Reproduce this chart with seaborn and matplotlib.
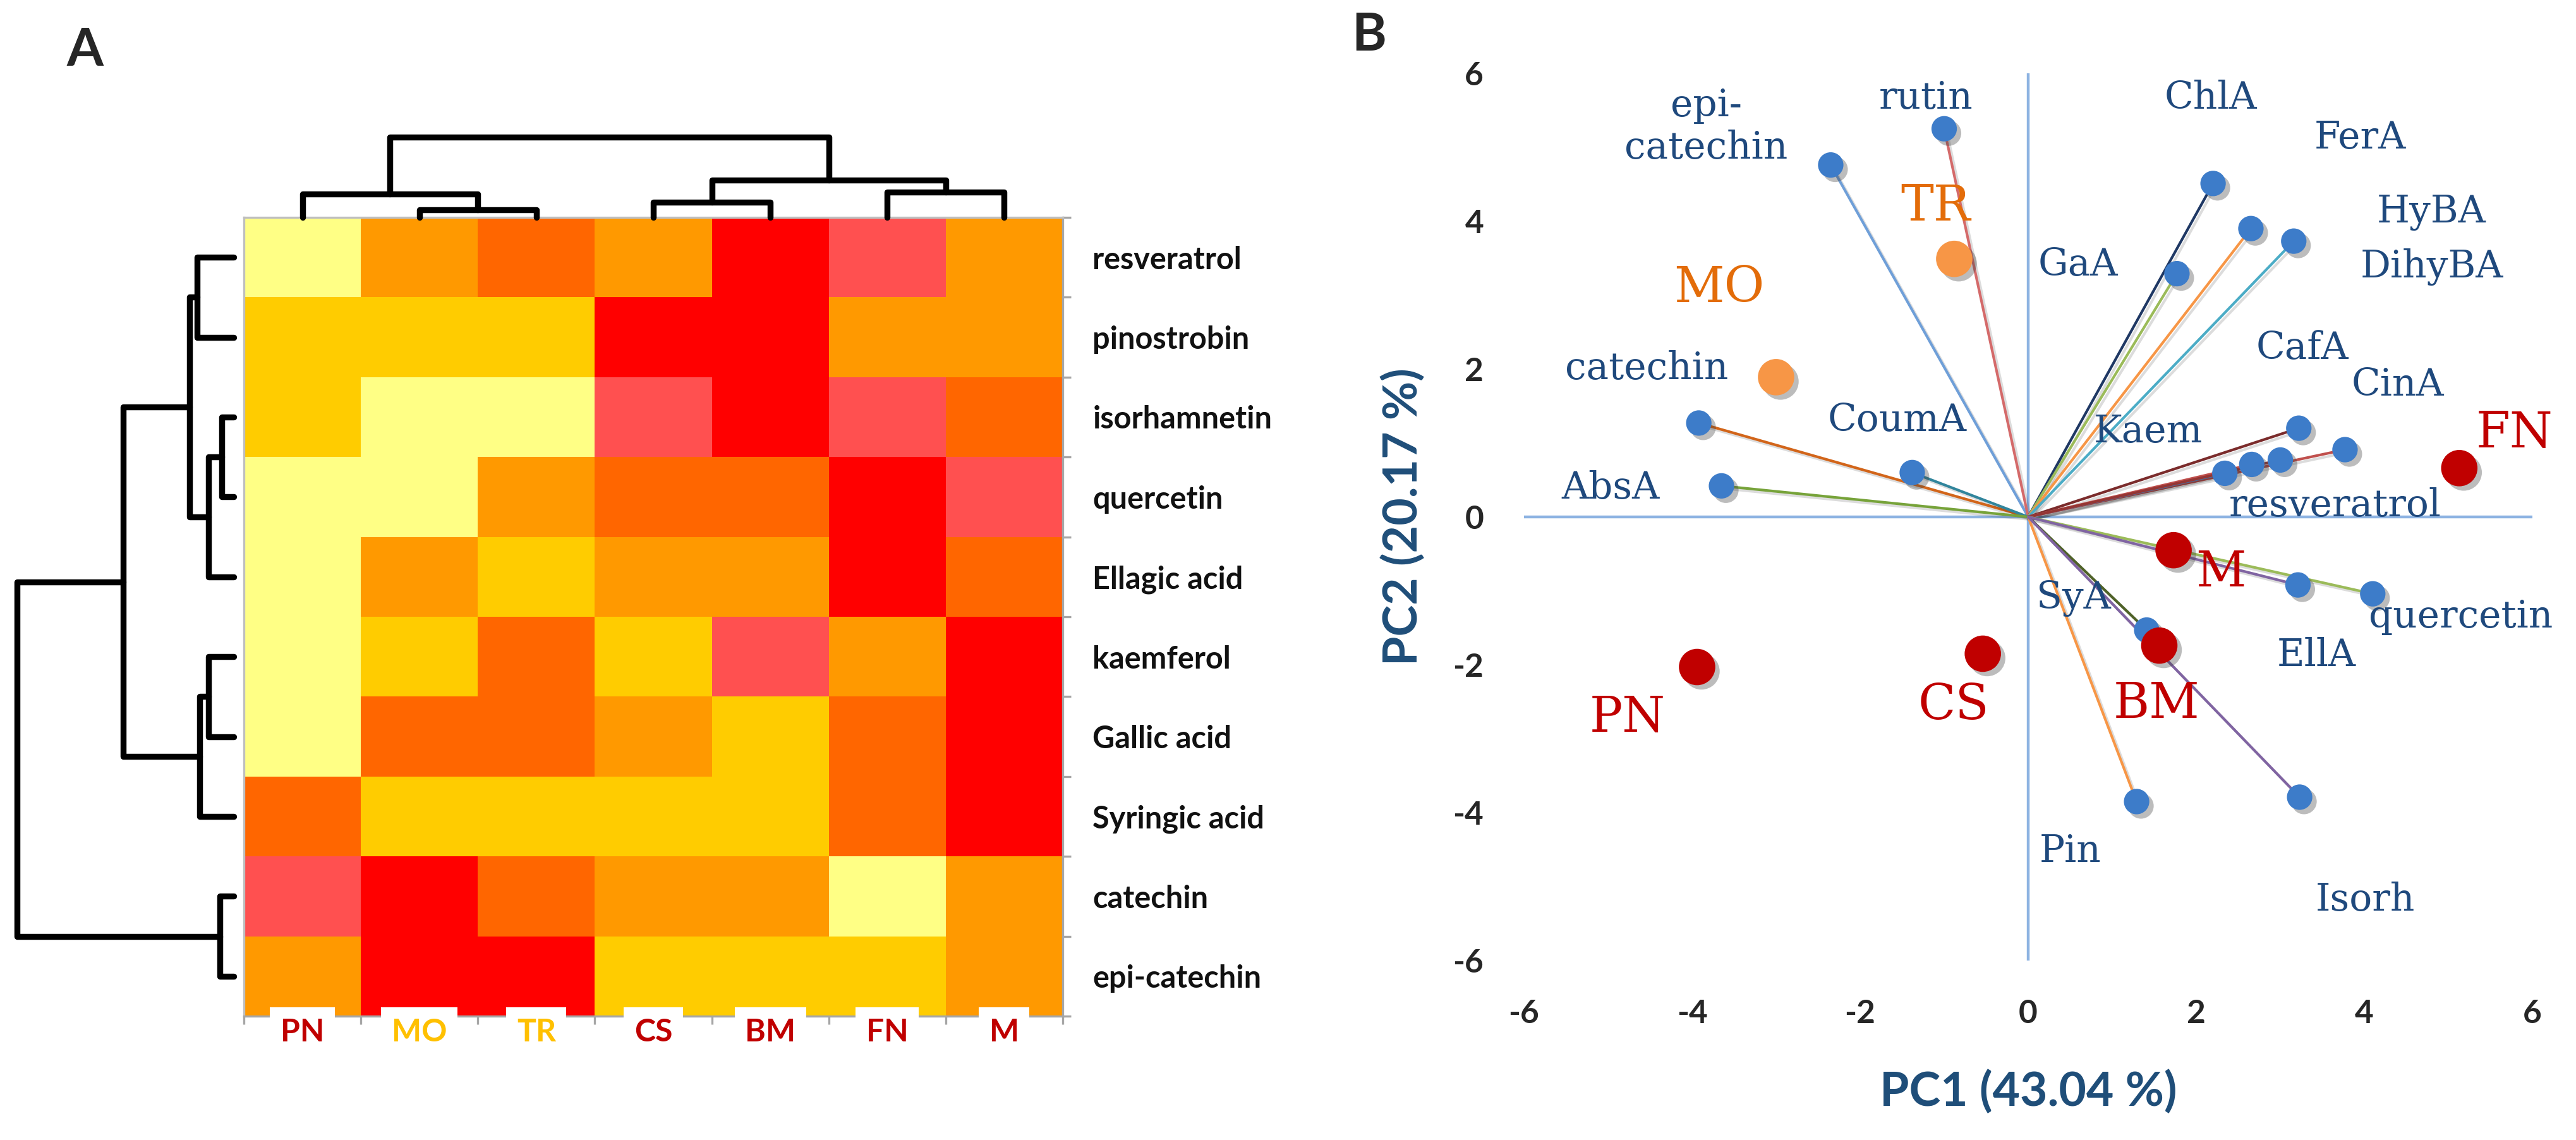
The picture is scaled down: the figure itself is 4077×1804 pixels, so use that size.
import numpy as np
import pandas as pd
import matplotlib
matplotlib.use("Agg")
import matplotlib.pyplot as plt
import matplotlib.patheffects as pe
from matplotlib.colors import ListedColormap
import seaborn as sns

# ---------------- dados: painel A (heatmap) ----------------
compostos = ["resveratrol", "pinostrobin", "isorhamnetin", "quercetin", "Ellagic acid",
             "kaemferol", "Gallic acid", "Syringic acid", "catechin", "epi-catechin"]
amostras = ["PN", "MO", "TR", "CS", "BM", "FN", "M"]
# nível de cor (0 = mais baixo ... 5 = mais alto)
niveis = [
    [0, 2, 3, 2, 5, 4, 2],
    [1, 1, 1, 5, 5, 2, 2],
    [1, 0, 0, 4, 5, 4, 3],
    [0, 0, 2, 3, 3, 5, 4],
    [0, 2, 1, 2, 2, 5, 3],
    [0, 1, 3, 1, 4, 2, 5],
    [0, 3, 3, 2, 1, 3, 5],
    [3, 1, 1, 1, 1, 3, 5],
    [4, 5, 3, 2, 2, 0, 2],
    [2, 5, 5, 1, 1, 1, 2],
]
cores_niveis = ["#FFFF85", "#FFCC00", "#FF9900", "#FF6600", "#FF5050", "#FF0000"]
cor_amostra = ["#C00000", "#FFC000", "#FFC000", "#C00000", "#C00000", "#C00000", "#C00000"]

# dendrogramas: (ramo esquerdo, ramo direito, distância)
link_colunas = [(1, 2, 12), (0, 7, 37), (3, 4, 24), (5, 6, 40), (9, 10, 59), (8, 11, 127)]
link_linhas = [(2, 3, 19), (10, 4, 40), (0, 1, 58), (12, 11, 70), (5, 6, 40),
               (14, 7, 54), (13, 15, 175), (8, 9, 22), (16, 17, 343)]

# ---------------- dados: painel B (PCA) ----------------
amostras_pca = ["PN", "MO", "TR", "CS", "BM", "FN", "M"]
pc1_amostras = [-3.94, -3.0, -0.88, -0.54, 1.56, 5.13, 1.73]
pc2_amostras = [-2.03, 1.89, 3.49, -1.85, -1.74, 0.66, -0.45]
grupo_amostras = ["a", "b", "b", "a", "a", "a", "a"]

variaveis = ["epi-catechin", "rutin", "ChlA", "GaA", "FerA", "HyBA", "CafA", "CinA",
             "Kaem", "DihyBA", "resveratrol", "catechin", "CoumA", "AbsA",
             "SyA", "quercetin", "EllA", "Pin", "Isorh"]
pc1_var = [-2.35, -1.0, 2.2, 1.77, 2.65, 3.16, 3.22, 3.77,
           2.34, 2.66, 3.0, -3.92, -1.38, -3.65,
           1.41, 4.1, 3.21, 1.29, 3.23]
pc2_var = [4.76, 5.25, 4.51, 3.29, 3.9, 3.73, 1.2, 0.91,
           0.59, 0.71, 0.77, 1.27, 0.6, 0.42,
           -1.53, -1.04, -0.92, -3.85, -3.79]
cor_linha = ["#6F9FD8", "#D46A6A", "#1F3864", "#9BBB59", "#F79646", "#4BACC6", "#7B2C2C", "#C0504D",
             "#4F81BD", "#C0504D", "#943634", "#D2651A", "#31859C", "#77A33A",
             "#4F6228", "#9BBB59", "#8064A2", "#F79646", "#8064A2"]

# posição dos rótulos (coordenadas do gráfico)
pos_rotulo_var = {
    "epi-catechin": (-3.83, 5.28), "rutin": (-1.22, 5.67), "ChlA": (2.17, 5.67),
    "FerA": (3.95, 5.13), "HyBA": (4.8, 4.12), "DihyBA": (4.8, 3.38), "GaA": (0.59, 3.41),
    "CafA": (3.26, 2.28), "CinA": (4.4, 1.79), "Kaem": (1.43, 1.15),
    "resveratrol": (3.65, 0.15), "catechin": (-4.54, 2.01), "CoumA": (-1.56, 1.31),
    "AbsA": (-4.97, 0.39), "SyA": (0.54, -1.1), "quercetin": (5.15, -1.35),
    "EllA": (3.43, -1.87), "Pin": (0.5, -4.52), "Isorh": (4.01, -5.18),
}
pos_rotulo_amostra = {
    "MO": (-3.68, 3.09), "TR": (-1.1, 4.2), "FN": (5.79, 1.13), "M": (2.29, -0.75),
    "CS": (-0.89, -2.56), "BM": (1.53, -2.53), "PN": (-4.77, -2.72),
}

# ---------------- figura ----------------
sns.set_theme(style="white")
plt.rcParams["font.family"] = ["Lato", "DejaVu Sans"]
plt.rcParams["axes.unicode_minus"] = False

W, H = 4077, 1804
fig = plt.figure(figsize=(W / 200, H / 200), dpi=200)


def caixa(x0, y0, x1, y1):
    # converte pixels (origem no topo) em fração da figura
    return [x0 / W, 1 - y1 / H, (x1 - x0) / W, (y1 - y0) / H]


def dendrograma(ax, link, n, lado):
    pos = {i: i + 0.5 for i in range(n)}
    alt = {i: 0.0 for i in range(n)}
    for k, (a, b, d) in enumerate(link):
        xs = [pos[a], pos[a], pos[b], pos[b]]
        ys = [alt[a], d, d, alt[b]]
        if lado == "topo":
            ax.plot(xs, ys, color="black", lw=3.4, solid_capstyle="round",
                    solid_joinstyle="round", clip_on=False)
        else:
            ax.plot(ys, xs, color="black", lw=3.4, solid_capstyle="round",
                    solid_joinstyle="round", clip_on=False)
        pos[n + k] = (pos[a] + pos[b]) / 2
        alt[n + k] = d
    ax.axis("off")


# ---- Painel A
ax_hm = fig.add_axes(caixa(386, 344, 1682, 1608))
df = pd.DataFrame(niveis, index=compostos, columns=amostras)
sns.heatmap(df, ax=ax_hm, cmap=ListedColormap(cores_niveis), vmin=-0.5, vmax=5.5,
            cbar=False, linewidths=0)
for s in ax_hm.spines.values():
    s.set_visible(True)
    s.set_color("#BFBFBF")
    s.set_linewidth(1.2)
ax_hm.spines["right"].set_color("#A6A6A6")
ax_hm.spines["bottom"].set_color("#A6A6A6")
ax_hm.yaxis.set_ticks_position("right")
ax_hm.set_xticks(np.arange(len(amostras) + 1), minor=True)
ax_hm.set_yticks(np.arange(len(compostos) + 1), minor=True)
ax_hm.tick_params(which="minor", length=4.5, width=1.2, color="#A6A6A6", bottom=True, right=True)
ax_hm.tick_params(axis="y", which="major", length=0, pad=17, labelsize=17.5)
ax_hm.tick_params(axis="x", which="major", length=0, pad=1, labelsize=18)
ax_hm.set_yticklabels(compostos, rotation=0, fontweight="bold", color="#111111")
ax_hm.set_xticklabels(amostras, rotation=0, fontweight="bold")
for lab, c in zip(ax_hm.get_xticklabels(), cor_amostra):
    lab.set_color(c)
    lab.set_bbox(dict(facecolor="white", edgecolor="none", pad=6))
ax_hm.xaxis.set_zorder(3)
ax_hm.set_xlabel("")
ax_hm.set_ylabel("")

ax_top = fig.add_axes(caixa(386, 217, 1682, 344))
dendrograma(ax_top, link_colunas, len(amostras), "topo")
ax_top.set_xlim(0, len(amostras))
ax_top.set_ylim(0, 127)

ax_esq = fig.add_axes(caixa(27, 344, 370, 1608))
dendrograma(ax_esq, link_linhas, len(compostos), "esq")
ax_esq.set_xlim(343, 0)
ax_esq.set_ylim(len(compostos), 0)

fig.text(134 / W, 1 - 80 / H, "A", fontsize=30, fontweight="bold", ha="center", va="center")

# ---- Painel B
ax = fig.add_axes(caixa(2412, 116, 4008, 1520))
azul_eixo = "#8DB3E2"
ax.plot([-6, 6], [0, 0], color=azul_eixo, lw=1.6, zorder=1)
ax.plot([0, 0], [-6, 6], color=azul_eixo, lw=1.6, zorder=1)

sombra = [pe.SimpleLineShadow(offset=(1.5, -1.5), alpha=0.15), pe.Normal()]
for x, y, c in zip(pc1_var, pc2_var, cor_linha):
    ax.plot([0, x], [0, y], color=c, lw=1.5, zorder=2, path_effects=sombra)

df_var = pd.DataFrame({"PC1": pc1_var, "PC2": pc2_var, "var": variaveis})
sns.scatterplot(data=df_var, x="PC1", y="PC2", ax=ax, color="#3D7CC9", s=210,
                edgecolor="none", zorder=3, legend=False)
sombra_pt = [pe.SimplePatchShadow(offset=(2.5, -2.5), shadow_rgbFace=(0.25, 0.25, 0.25),
                                  alpha=0.35), pe.Normal()]
ax.collections[-1].set_path_effects(sombra_pt)

df_am = pd.DataFrame({"PC1": pc1_amostras, "PC2": pc2_amostras, "grupo": grupo_amostras})
sns.scatterplot(data=df_am, x="PC1", y="PC2", hue="grupo", ax=ax,
                palette={"a": "#C00000", "b": "#F79646"}, s=430,
                edgecolor="none", zorder=4, legend=False)
ax.collections[-1].set_path_effects(sombra_pt)

serif = ["DejaVu Serif"]
for nome, (tx, ty) in pos_rotulo_var.items():
    rot = "epi-\ncatechin" if nome == "epi-catechin" else nome
    ax.text(tx, ty, rot, color="#1F497D", fontsize=21.5, family=serif, ha="center",
            va="center", linespacing=1.2, zorder=5)
for nome, g in zip(amostras_pca, grupo_amostras):
    tx, ty = pos_rotulo_amostra[nome]
    ax.text(tx, ty, nome, color="#C00000" if g == "a" else "#E36C09", fontsize=28,
            family=serif, ha="center", va="center", zorder=5)

ax.set_xlim(-6, 6)
ax.set_ylim(-6, 6)
ax.set_xticks(np.arange(-6, 7, 2))
ax.set_yticks(np.arange(-6, 7, 2))
ax.tick_params(length=0, labelsize=18.5)
ax.tick_params(axis="x", pad=22)
ax.tick_params(axis="y", pad=23)
for lab in ax.get_xticklabels() + ax.get_yticklabels():
    lab.set_fontweight("bold")
sns.despine(ax=ax, left=True, bottom=True)
ax.grid(False)
ax.set_xlabel("PC1 (43.04 %)", fontsize=27, fontweight="bold", color="#1F4E79")
ax.set_ylabel("PC2 (20.17 %)", fontsize=27, fontweight="bold", color="#1F4E79")
ax.xaxis.set_label_coords(0.5, -0.148)
ax.xaxis.label.set_va("center")
ax.yaxis.set_label_coords(-0.12, 0.5)
ax.yaxis.label.set_va("center")

fig.text(2167 / W, 1 - 57 / H, "B", fontsize=30, fontweight="bold", ha="center", va="center")

fig.savefig("out.png", dpi=200, facecolor="white")
